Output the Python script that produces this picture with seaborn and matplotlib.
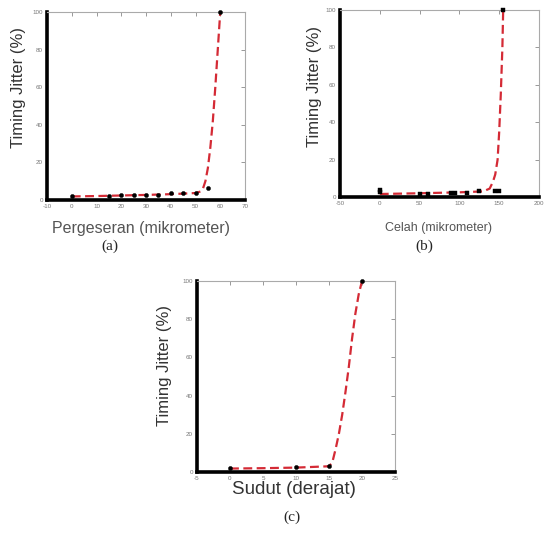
import numpy as np
import pandas as pd
import matplotlib
matplotlib.use("Agg")
import matplotlib.pyplot as plt
import seaborn as sns

# -----------------------------
# DATA
# -----------------------------

# (a) Pergeseran
shift_x = [0, 15, 20, 25, 30, 35, 40, 45, 50, 55, 60]
shift_y = [2.2, 2.3, 2.5, 2.8, 2.8, 2.9, 3.5, 3.8, 3.8, 6.5, 100]
shift_fit_x = [0, 10, 20, 30, 40, 50, 52, 53, 54, 55, 56, 57, 58, 59, 60]
shift_fit_y = [1.9, 2.1, 2.4, 2.7, 3.1, 3.7, 4.5, 6, 10, 17, 28, 42, 60, 80, 100]

# (b) Celah
gap_x = [0, 0, 50, 60, 90, 95, 110, 125, 145, 150, 155]
gap_y = [2.5, 3.5, 1.8, 1.8, 2.1, 2.1, 2.1, 3.0, 3.4, 3.4, 100]
gap_fit_x = [0, 50, 100, 130, 138, 142, 145, 148, 150, 152, 154, 155]
gap_fit_y = [1.6, 2.0, 2.5, 3.0, 4.5, 8, 12, 20, 35, 55, 80, 100]

# (c) Sudut
angle_x = [0, 10, 15, 20]
angle_y = [2.0, 2.5, 3.0, 100]
angle_fit_x = [0, 5, 10, 15, 15.5, 16, 16.5, 17, 17.5, 18, 18.5, 19, 19.5, 20]
angle_fit_y = [1.8, 2.0, 2.3, 3.0, 5, 12, 20, 30, 42, 55, 70, 83, 93, 100]

# -----------------------------
# STYLE
# -----------------------------

sns.set_style("white")
plt.rcParams["font.family"] = ["Liberation Sans", "DejaVu Sans"]
plt.rcParams["axes.unicode_minus"] = False

W, H = 544, 533
fig = plt.figure(figsize=(W / 100, H / 100), dpi=100)

RED = "#d42a35"


def px_axes(left, top, right, bottom):
    return fig.add_axes([left / W, 1 - bottom / H, (right - left) / W, (bottom - top) / H])


def draw_panel(ax, x, y, fx, fy, marker, size, xlim, xticks):
    sns.lineplot(x=fx, y=fy, ax=ax, color=RED, linewidth=1.6,
                 linestyle=(0, (4, 2)), estimator=None, sort=False, zorder=2)
    sns.scatterplot(x=x, y=y, ax=ax, color="black", marker=marker, s=size,
                    edgecolor="black", linewidth=0.3, zorder=3, clip_on=False)
    ax.set_xlim(*xlim)
    ax.set_ylim(0, 100)
    ax.set_xticks(xticks)
    ax.set_yticks(range(0, 101, 20))
    ax.tick_params(direction="in", length=3, width=0.6, color="#888888",
                   labelsize=4.5, labelcolor="#777777", top=True, right=True,
                   pad=3)
    for side in ["top", "right"]:
        ax.spines[side].set_color("#aaaaaa")
        ax.spines[side].set_linewidth(0.8)
    for side in ["left", "bottom"]:
        ax.spines[side].set_color("black")
        ax.spines[side].set_linewidth(2.6)


# (a)
ax_a = px_axes(47, 12, 245, 200)
draw_panel(ax_a, shift_x, shift_y, shift_fit_x, shift_fit_y, "o", 9,
           (-10, 70), range(-10, 71, 10))
ax_a.set_ylabel("Timing Jitter (%)", fontsize=12, color="#333333", va="center")
ax_a.yaxis.set_label_coords(-0.146, 0.60)
ax_a.set_xlabel("Pergeseran (mikrometer)", fontsize=11.5, color="#555555", va="center")
ax_a.xaxis.set_label_coords(0.475, -0.15)

# (b)
ax_b = px_axes(340, 10, 539, 197)
draw_panel(ax_b, gap_x, gap_y, gap_fit_x, gap_fit_y, "s", 8,
           (-50, 200), range(-50, 201, 50))
ax_b.set_ylabel("Timing Jitter (%)", fontsize=12, color="#333333", va="center")
ax_b.yaxis.set_label_coords(-0.126, 0.59)
ax_b.set_xlabel("Celah (mikrometer)", fontsize=9, color="#555555", va="center")
ax_b.xaxis.set_label_coords(0.497, -0.166)

# (c)
ax_c = px_axes(197, 281, 395, 472)
draw_panel(ax_c, angle_x, angle_y, angle_fit_x, angle_fit_y, "o", 9,
           (-5, 25), range(-5, 26, 5))
ax_c.set_ylabel("Timing Jitter (%)", fontsize=12, color="#333333", va="center")
ax_c.yaxis.set_label_coords(-0.162, 0.56)
ax_c.set_xlabel("Sudut (derajat)", fontsize=13.5, color="#333333", va="center")
ax_c.xaxis.set_label_coords(0.49, -0.092)

# captions
for label, cx, cy in [("(a)", 110, 246), ("(b)", 424, 246), ("(c)", 292, 517)]:
    fig.text(cx / W, 1 - cy / H, label, ha="center", va="center",
             fontsize=11, family=["Liberation Serif", "DejaVu Serif"])

fig.savefig("out.png", dpi=100)
plt.close(fig)
